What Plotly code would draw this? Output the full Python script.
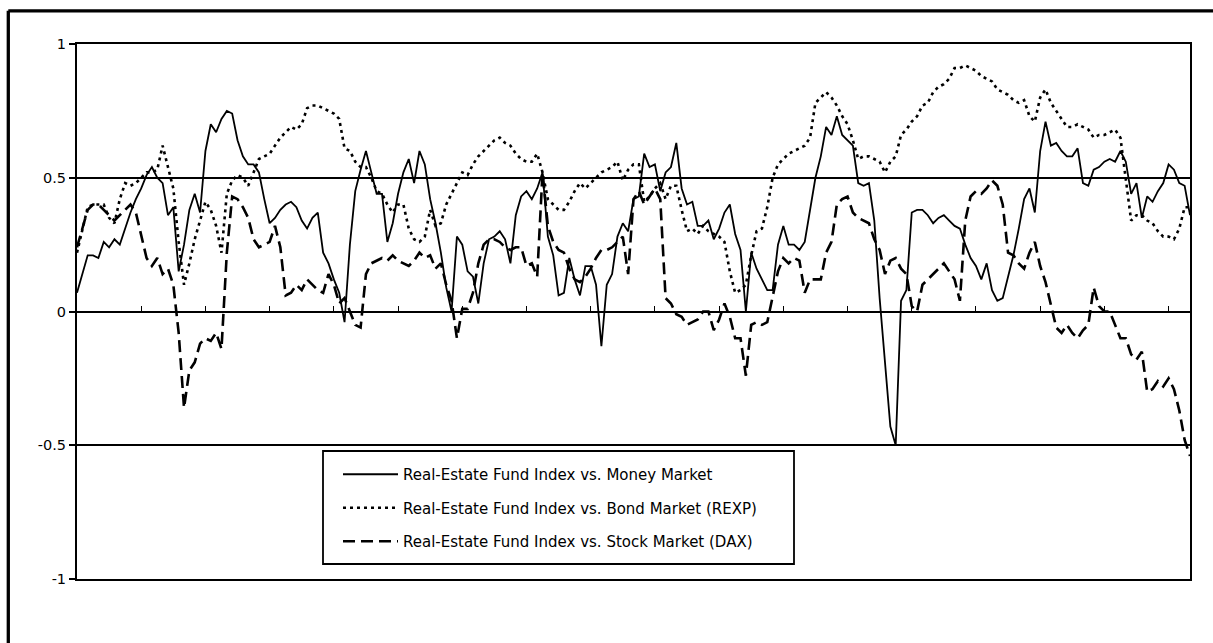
import plotly.graph_objects as go

# month index (ticks every 12 points)
months = list(range(209))
tick_months = list(range(12, 205, 12))
y_ticks = [-1, -0.5, 0, 0.5, 1]
y_tick_labels = ["-1", "-0.5", "0", "0.5", "1"]

series_names = [
    "Real-Estate Fund Index vs. Money Market",
    "Real-Estate Fund Index vs. Bond Market (REXP)",
    "Real-Estate Fund Index vs. Stock Market (DAX)",
]

money_market = [
    0.07, 0.14, 0.21, 0.21, 0.20, 0.26, 0.24, 0.27, 0.25, 0.31,
    0.37, 0.42, 0.46, 0.51, 0.54, 0.50, 0.48, 0.36, 0.39, 0.15,
    0.25, 0.38, 0.44, 0.37, 0.60, 0.70, 0.67, 0.72, 0.75, 0.74,
    0.64, 0.58, 0.55, 0.55, 0.52, 0.42, 0.33, 0.35, 0.38, 0.40,
    0.41, 0.39, 0.34, 0.31, 0.35, 0.37, 0.22, 0.18, 0.12, 0.07,
    -0.04, 0.25, 0.45, 0.53, 0.60, 0.52, 0.44, 0.44, 0.26, 0.33,
    0.44, 0.52, 0.57, 0.48, 0.60, 0.55, 0.42, 0.33, 0.22, 0.09,
    0.00, 0.28, 0.25, 0.15, 0.13, 0.03, 0.18, 0.27, 0.28, 0.30,
    0.27, 0.18, 0.36, 0.43, 0.45, 0.42, 0.46, 0.52, 0.28, 0.21,
    0.06, 0.07, 0.20, 0.12, 0.06, 0.17, 0.17, 0.10, -0.13, 0.10,
    0.14, 0.28, 0.33, 0.30, 0.42, 0.43, 0.59, 0.54, 0.55, 0.45,
    0.52, 0.54, 0.63, 0.46, 0.40, 0.41, 0.32, 0.32, 0.34, 0.27,
    0.31, 0.37, 0.40, 0.29, 0.23, 0.00, 0.22, 0.16, 0.12, 0.08,
    0.08, 0.25, 0.32, 0.25, 0.25, 0.23, 0.26, 0.38, 0.50, 0.58,
    0.69, 0.66, 0.73, 0.66, 0.64, 0.62, 0.48, 0.47, 0.48, 0.34,
    0.05, -0.20, -0.43, -0.50, 0.04, 0.08, 0.37, 0.38, 0.38, 0.36,
    0.33, 0.35, 0.36, 0.34, 0.32, 0.31, 0.25, 0.20, 0.17, 0.12,
    0.18, 0.08, 0.04, 0.05, 0.13, 0.21, 0.31, 0.42, 0.46, 0.37,
    0.60, 0.71, 0.62, 0.63, 0.60, 0.58, 0.58, 0.61, 0.48, 0.47,
    0.53, 0.54, 0.56, 0.57, 0.56, 0.60, 0.56, 0.44, 0.48, 0.35,
    0.43, 0.41, 0.45, 0.48, 0.55, 0.53, 0.48, 0.47, 0.36,
]

bond_market = [
    0.22, 0.30, 0.39, 0.40, 0.40, 0.40, 0.35, 0.33, 0.42, 0.48,
    0.47, 0.48, 0.50, 0.52, 0.52, 0.53, 0.62, 0.54, 0.46, 0.26,
    0.10, 0.18, 0.27, 0.34, 0.41, 0.38, 0.32, 0.22, 0.44, 0.49,
    0.51, 0.50, 0.47, 0.52, 0.57, 0.58, 0.59, 0.62, 0.65, 0.67,
    0.69, 0.68, 0.70, 0.76, 0.77, 0.77, 0.76, 0.75, 0.74, 0.72,
    0.61, 0.60, 0.56, 0.54, 0.54, 0.50, 0.45, 0.44, 0.40, 0.37,
    0.40, 0.40, 0.31, 0.27, 0.26, 0.28, 0.38, 0.32, 0.33, 0.40,
    0.44, 0.48, 0.52, 0.51, 0.55, 0.58, 0.60, 0.62, 0.64, 0.65,
    0.63, 0.62, 0.59, 0.57, 0.56, 0.56, 0.59, 0.52, 0.42, 0.40,
    0.38, 0.38, 0.41, 0.45, 0.48, 0.46, 0.48, 0.50, 0.52, 0.53,
    0.54, 0.56, 0.49, 0.53, 0.55, 0.55, 0.41, 0.43, 0.46, 0.48,
    0.42, 0.47, 0.47, 0.38, 0.30, 0.31, 0.29, 0.32, 0.30, 0.29,
    0.28, 0.26, 0.15, 0.07, 0.08, 0.10, 0.21, 0.30, 0.31, 0.39,
    0.50, 0.55, 0.57, 0.59, 0.60, 0.61, 0.62, 0.65, 0.78, 0.80,
    0.82, 0.80, 0.77, 0.73, 0.70, 0.64, 0.57, 0.58, 0.58, 0.57,
    0.56, 0.52, 0.56, 0.58, 0.66, 0.68, 0.71, 0.73, 0.77, 0.78,
    0.82, 0.84, 0.85, 0.87, 0.91, 0.91, 0.92, 0.91, 0.90, 0.88,
    0.87, 0.86, 0.83, 0.82, 0.81, 0.79, 0.78, 0.79, 0.73, 0.71,
    0.80, 0.83, 0.78, 0.75, 0.72, 0.69, 0.69, 0.70, 0.69, 0.68,
    0.65, 0.66, 0.66, 0.67, 0.68, 0.65, 0.50, 0.34, 0.36, 0.36,
    0.34, 0.33, 0.30, 0.28, 0.28, 0.27, 0.31, 0.39, 0.39,
]

stock_market = [
    0.24, 0.31, 0.38, 0.40, 0.40, 0.38, 0.36, 0.34, 0.36, 0.38,
    0.40, 0.37, 0.28, 0.20, 0.17, 0.20, 0.14, 0.16, 0.10, -0.08,
    -0.36, -0.22, -0.19, -0.12, -0.10, -0.11, -0.08, -0.14, 0.22, 0.43,
    0.42, 0.39, 0.35, 0.27, 0.24, 0.25, 0.26, 0.32, 0.24, 0.06,
    0.07, 0.10, 0.08, 0.12, 0.10, 0.08, 0.07, 0.14, 0.10, 0.03,
    0.05, 0.00, -0.05, -0.06, 0.14, 0.18, 0.19, 0.20, 0.19, 0.21,
    0.19, 0.18, 0.17, 0.19, 0.22, 0.20, 0.21, 0.16, 0.18, 0.10,
    0.04, -0.10, 0.01, 0.01, 0.07, 0.18, 0.25, 0.27, 0.27, 0.26,
    0.24, 0.23, 0.24, 0.24, 0.17, 0.18, 0.13, 0.52, 0.32, 0.26,
    0.23, 0.22, 0.16, 0.12, 0.11, 0.13, 0.16, 0.20, 0.23, 0.23,
    0.24, 0.26, 0.28, 0.14, 0.42, 0.45, 0.40, 0.43, 0.46, 0.42,
    0.05, 0.03, -0.01, -0.02, -0.05, -0.04, -0.03, 0.00, 0.00, -0.07,
    -0.03, 0.03, -0.02, -0.10, -0.10, -0.24, -0.05, -0.04, -0.05, -0.04,
    0.05, 0.15, 0.20, 0.18, 0.20, 0.19, 0.07, 0.12, 0.12, 0.12,
    0.22, 0.26, 0.40, 0.42, 0.43, 0.37, 0.35, 0.34, 0.33, 0.27,
    0.23, 0.14, 0.19, 0.20, 0.16, 0.14, 0.02, 0.00, 0.10, 0.12,
    0.14, 0.16, 0.18, 0.15, 0.12, 0.04, 0.34, 0.43, 0.45, 0.44,
    0.46, 0.49, 0.47, 0.40, 0.22, 0.21, 0.18, 0.16, 0.22, 0.26,
    0.17, 0.11, 0.03, -0.06, -0.08, -0.05, -0.08, -0.10, -0.07, -0.05,
    0.09, 0.02, 0.00, 0.00, -0.05, -0.10, -0.10, -0.16, -0.18, -0.15,
    -0.30, -0.29, -0.26, -0.28, -0.25, -0.29, -0.37, -0.48, -0.54,
]

FONT = "DejaVu Sans"

# plot area in pixels (for decoration placement)
W, H = 1213, 643
L, R, T, B = 77, 23, 44, 64
PW, PH = W - L - R, H - T - B


def px_x(p):
    return (p - L) / PW


def px_y(p):
    return (H - B - p) / PH


fig = go.Figure()

fig.add_trace(go.Scatter(
    x=months, y=money_market, name=series_names[0], mode="lines",
    line=dict(color="black", width=1.8), legendgroup="a"))
fig.add_trace(go.Scatter(
    x=months, y=bond_market, name=series_names[1], mode="lines",
    line=dict(color="black", width=2.6, dash="3px,4px"), legendgroup="b"))
fig.add_trace(go.Scatter(
    x=months, y=stock_market, name=series_names[2], mode="lines",
    line=dict(color="black", width=2.6, dash="12px,6px"), legendgroup="c"))

# helper trace so the tick axis at y=0 is drawn
fig.add_trace(go.Scatter(x=[], y=[], xaxis="x2", showlegend=False,
                         hoverinfo="skip"))

fig.update_layout(
    width=W, height=H,
    margin=dict(l=L, r=R, t=T, b=B),
    paper_bgcolor="white", plot_bgcolor="white",
    font=dict(family=FONT, color="black", size=13),
    showlegend=True,
    xaxis=dict(range=[0, 208], showticklabels=False, ticks="",
               showgrid=False, zeroline=False, showline=True,
               linecolor="black", linewidth=1.5, mirror=True),
    xaxis2=dict(range=[0, 208], overlaying="x", anchor="free", position=0.5,
                side="bottom", tickmode="array", tickvals=tick_months,
                ticks="inside", ticklen=6, tickwidth=1.3, tickcolor="black",
                showticklabels=False, showgrid=False, zeroline=False,
                showline=False),
    yaxis=dict(range=[-1, 1], tickmode="array", tickvals=y_ticks,
               ticktext=y_tick_labels, ticks="outside", ticklen=6,
               tickwidth=1.5, tickcolor="black", ticklabelstandoff=0,
               showgrid=True, gridcolor="black", gridwidth=1.6,
               zeroline=False, showline=True, linecolor="black",
               linewidth=2, mirror=True,
               tickfont=dict(family=FONT, size=14.5, color="black")),
    legend=dict(x=px_x(338), y=px_y(458), xanchor="left", yanchor="top",
                bgcolor="rgba(0,0,0,0)", borderwidth=0,
                font=dict(family=FONT, size=15, color="black"),
                tracegroupgap=11, itemwidth=55),
    shapes=[
        # legend box
        dict(type="rect", xref="paper", yref="paper",
             x0=px_x(323), x1=px_x(794), y0=px_y(564), y1=px_y(451),
             line=dict(color="black", width=1.8), fillcolor="white",
             layer="above"),
        # outer chart frame (top and left edges visible)
        dict(type="line", xref="paper", yref="paper",
             x0=px_x(8.3), x1=px_x(1230), y0=px_y(10.8), y1=px_y(10.8),
             line=dict(color="black", width=3.3)),
        dict(type="line", xref="paper", yref="paper",
             x0=px_x(8.3), x1=px_x(8.3), y0=px_y(10.8), y1=px_y(660),
             line=dict(color="black", width=3.3)),
    ],
)

fig.write_html(
    "out.html",
    config={"displayModeBar": False},
    post_script="document.body.style.margin='0';"
                "document.body.style.overflow='hidden';",
)
